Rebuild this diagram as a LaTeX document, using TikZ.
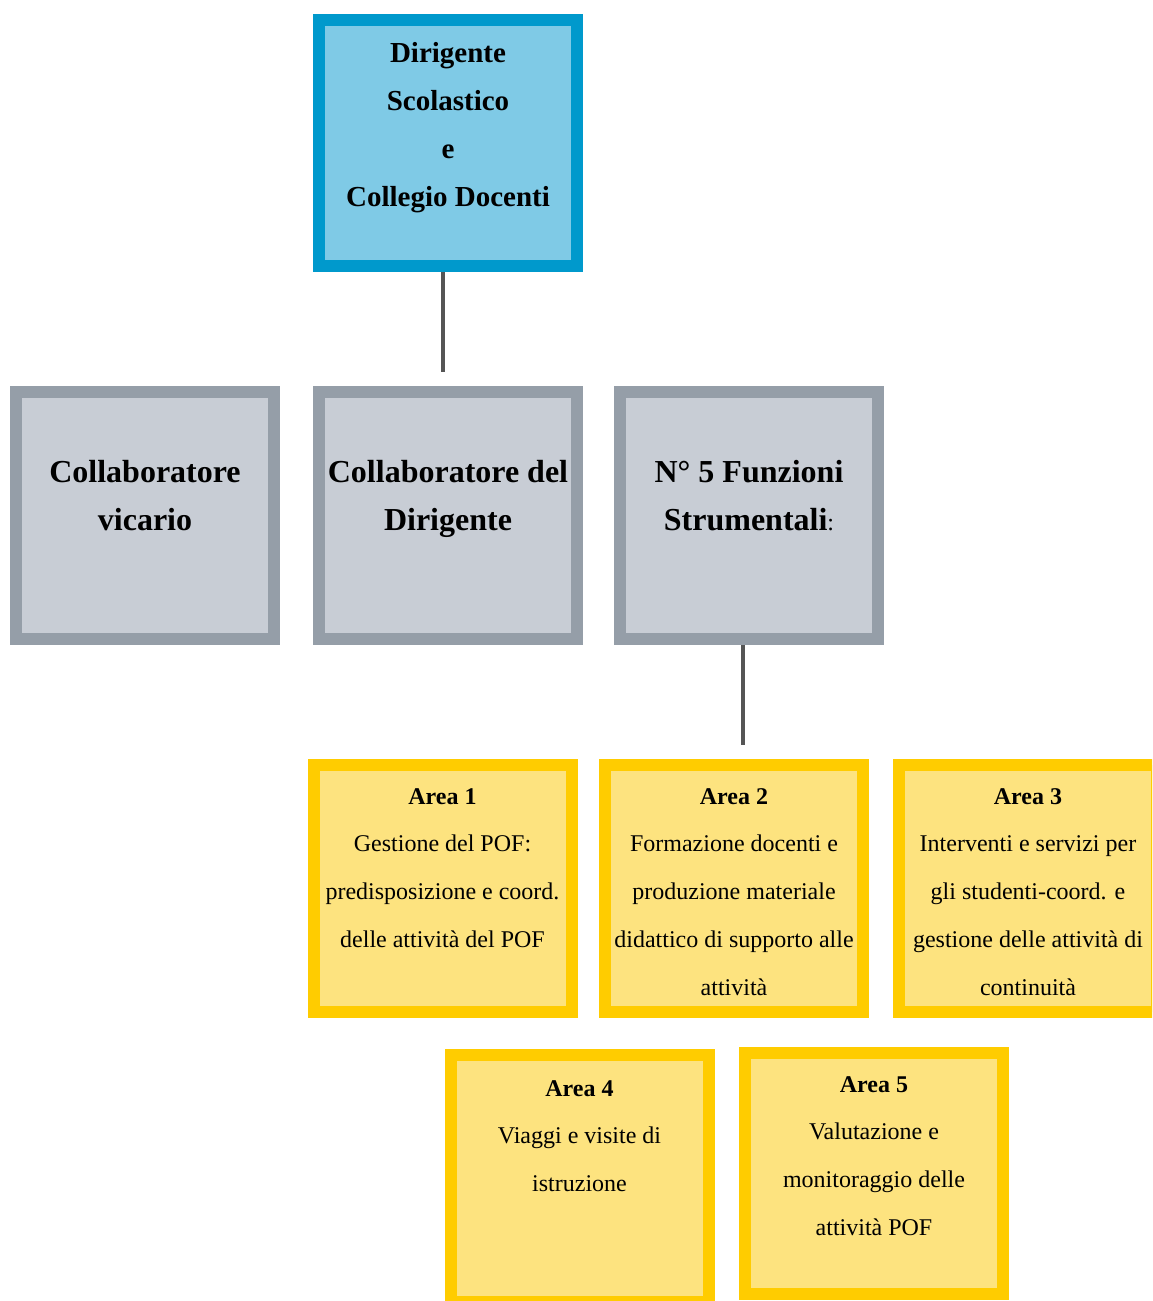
\documentclass[tikz,border=0pt]{standalone}
\usepackage{fontspec}
\setmainfont{Liberation Serif}
\definecolor{bluefill}{HTML}{7FCAE6}
\definecolor{blueline}{HTML}{0099CC}
\definecolor{grayfill}{HTML}{C8CDD5}
\definecolor{grayline}{HTML}{959EA8}
\definecolor{yelfill}{HTML}{FDE37F}
\definecolor{yelline}{HTML}{FFCC00}
\definecolor{conn}{HTML}{555555}
\tikzset{
  box/.style={rectangle, line width=12pt, inner sep=0pt, minimum width=258pt, minimum height=246pt},
  bluebox/.style={box, fill=bluefill, draw=blueline},
  graybox/.style={box, fill=grayfill, draw=grayline, minimum height=247pt},
  yelbox/.style={box, fill=yelfill, draw=yelline, minimum height=247pt},
  txt/.style={anchor=base, align=center, inner sep=0pt},
  toptxt/.style={txt, font=\fontsize{29}{48}\selectfont\bfseries},
  midtxt/.style={txt, font=\fontsize{32}{48}\selectfont\bfseries},
  areatxt/.style={txt, font=\fontsize{24}{47.8}\selectfont},
  connector/.style={draw=conn, line width=4pt}
}
\begin{document}
\begin{tikzpicture}[x=1pt,y=-1pt]
\useasboundingbox (0,0) rectangle (1152,1301);
\clip (0,0) rectangle (1152,1301);
% top (text nodes anchored at the baseline of their last line)
\node[bluebox] (top) at (448,143) {};
\node[toptxt] (toptext) at (448,206) {Dirigente\\Scolastico\\e\\Collegio Docenti};
% second row
\node[graybox] (vic) at (145,515.5) {};
\node[midtxt] (victext) at (145,530) {Collaboratore\\vicario};
\node[graybox] (col) at (448,515.5) {};
\node[midtxt] (coltext) at (448,530) {Collaboratore del\\Dirigente};
\node[graybox] (fun) at (749,515.5) {};
\node[midtxt] (funtext) at (749,530) {N° 5 Funzioni\\Strumentali{\mdseries\fontsize{24}{48}\selectfont:}};
% areas
\node[yelbox] (a1) at (442.5,888.5) {};
\node[areatxt] (a1text) at (442.5,947.4) {\textbf{Area 1}\\Gestione del POF:\\predisposizione e coord.\\delle attività del POF};
\node[yelbox] (a2) at (734,888.5) {};
\node[areatxt] (a2text) at (734,995.2) {\textbf{Area 2}\\Formazione docenti e\\produzione materiale\\didattico di supporto alle\\attività};
\node[yelbox] (a3) at (1028,888.5) {};
\node[areatxt] (a3text) at (1028,995.2) {\textbf{Area 3}\\Interventi e servizi per\\gli studenti-coord. e\\gestione delle attività di\\continuità};
\node[yelbox] (a4) at (579.5,1178) {};
\node[areatxt] (a4text) at (579.5,1191.6) {\textbf{Area 4}\\Viaggi e visite di\\istruzione};
\node[yelbox, minimum height=241pt] (a5) at (874,1173.5) {};
\node[areatxt] (a5text) at (874,1235.4) {\textbf{Area 5}\\Valutazione e\\monitoraggio delle\\attività POF};
% connectors
\coordinate (c1) at (443,372);
\coordinate (c2) at (743,745);
\draw[connector] ([xshift=-5pt]top.south) -- (c1);
\draw[connector] ([xshift=-6pt]fun.south) -- (c2);
\end{tikzpicture}
\end{document}
